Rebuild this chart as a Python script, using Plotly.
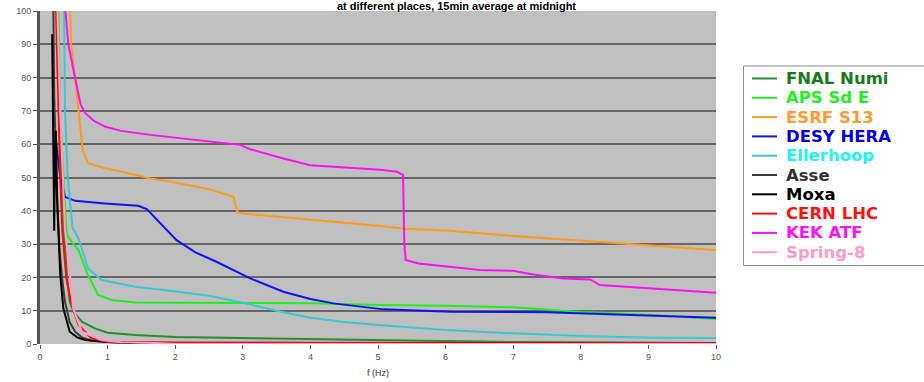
import plotly.graph_objects as go

# ---------------- data ----------------
names = ["FNAL Numi", "APS Sd E", "ESRF S13", "DESY HERA", "Ellerhoop",
         "Asse", "Moxa", "CERN LHC", "KEK ATF", "Spring-8"]
line_colors = ["#2a8c2a", "#1ef01e", "#ff9a1a", "#1212f0", "#3cc8cc",
               "#3c3c3c", "#000000", "#ff0a0a", "#ff10f0", "#ff9ccc"]
text_colors = ["#1a7a1a", "#22ee22", "#ff9a33", "#0000ee", "#22f4f4",
               "#333333", "#000000", "#ff1010", "#ff10f0", "#ff9ccc"]

fnal_x = [0.26, 0.30, 0.35, 0.40, 0.44, 0.50, 0.62, 0.81, 1.0, 1.41, 2.0, 3.0, 4.0, 5.0, 6.0, 7.0, 8.0, 9.0, 10.0]
fnal_y = [105, 60, 35, 20, 12.7, 9.5, 6.7, 4.7, 3.4, 2.7, 2.1, 1.8, 1.4, 1.0, 0.7, 0.6, 0.5, 0.4, 0.3]

aps_x = [0.27, 0.296, 0.39, 0.42, 0.47, 0.57, 0.71, 0.86, 1.06, 1.41, 2.0, 3.0, 4.0, 5.0, 6.0, 7.0, 8.0, 9.0, 10.0]
aps_y = [105, 70, 34, 32, 30.7, 28.2, 20.7, 14.7, 13.2, 12.5, 12.4, 12.3, 12.2, 11.7, 11.5, 11.0, 9.6, 8.8, 7.5]

esrf_x = [0.44, 0.46, 0.52, 0.57, 0.63, 0.71, 0.96, 1.2, 1.63, 2.0, 2.5, 2.86, 2.92, 3.0, 3.5, 4.09, 4.5, 5.03, 5.37, 6.07, 7.0, 7.5, 8.48, 9.0, 10.0]
esrf_y = [105, 90, 80, 70, 58.3, 54.3, 52.8, 51.8, 49.7, 48.5, 46.5, 44.2, 39.6, 39.2, 38.3, 37.2, 36.5, 35.4, 34.7, 34.0, 32.4, 31.7, 30.2, 29.5, 28.2]

desy_x = [0.22, 0.25, 0.30, 0.37, 0.52, 0.96, 1.3, 1.45, 1.58, 1.75, 1.92, 2.02, 2.3, 2.61, 3.11, 3.6, 4.0, 4.34, 5.08, 6.07, 7.5, 8.5, 9.0, 10.0]
desy_y = [64, 58, 50, 44.2, 43, 42.2, 41.8, 41.5, 40.5, 37, 33.2, 31.2, 27.5, 24.7, 19.7, 15.7, 13.5, 12.2, 10.4, 9.7, 9.5, 8.8, 8.5, 7.9]

eller_x = [0.355, 0.37, 0.41, 0.48, 0.57, 0.71, 0.91, 1.41, 1.92, 2.5, 3.0, 3.5, 4.0, 4.5, 5.0, 6.0, 7.0, 8.0, 9.0, 10.0]
eller_y = [105, 70, 50, 35, 31.7, 22.7, 19.2, 17.2, 16, 14.5, 12.4, 10, 7.9, 6.6, 5.7, 4.2, 3.2, 2.4, 1.9, 1.8]

asse_x = [0.195, 0.20, 0.21, 0.23, 0.26, 0.29, 0.33, 0.37, 0.44, 0.52, 0.62, 0.76, 1.0, 2.0, 4.0, 6.0, 8.0, 10.0]
asse_y = [105, 90, 75, 60, 40, 28, 19, 12.7, 6.5, 3.7, 2.0, 1.0, 0.6, 0.4, 0.3, 0.3, 0.3, 0.3]

moxa_x = [0.18, 0.19, 0.20, 0.21, 0.22, 0.235, 0.25, 0.27, 0.30, 0.345, 0.44, 0.55, 0.67, 1.0, 1.3, 2.0, 4.0, 6.0, 8.0]
moxa_y = [93, 70, 45, 34, 55, 64, 45, 35.7, 20.7, 10.7, 3.7, 2.0, 1.2, 0.6, 0.3, 0.3, 0.2, 0.2, 0.2]

cern_x = [0.23, 0.26, 0.27, 0.30, 0.33, 0.345, 0.39, 0.47, 0.57, 0.76, 1.0, 1.5, 2.0, 4.0, 6.0, 8.0, 10.0]
cern_y = [105, 80, 70, 50, 34, 29.7, 19.7, 11.7, 5.7, 1.7, 0.7, 0.5, 0.4, 0.3, 0.3, 0.2, 0.2]

kek_x = [0.355, 0.42, 0.52, 0.60, 0.67, 0.80, 0.96, 1.2, 1.63, 2.0, 2.5, 2.96, 3.11, 3.6, 4.0, 4.5, 5.03, 5.28, 5.37, 5.39, 5.41, 5.6, 6.07, 6.51, 7.0, 7.25, 7.74, 8.14, 8.28, 9.0, 10.0]
kek_y = [105, 89.8, 79.8, 72, 69.3, 67, 65.3, 64, 62.8, 62, 61, 59.8, 58.5, 55.7, 53.7, 53, 52.3, 51.7, 50.8, 30, 25.2, 24.2, 23.2, 22.2, 22, 21, 19.7, 19.4, 17.7, 16.8, 15.4]

spring_x = [0.25, 0.30, 0.37, 0.42, 0.49, 0.62, 0.91, 1.2, 1.7, 2.0, 4.0, 6.0, 8.0, 10.0]
spring_y = [105, 70, 34, 25.7, 10.7, 3.7, 1.2, 0.5, 0.3, 0.0, 0.0, 0.0, 0.0, 0.0]

series_x = [fnal_x, aps_x, esrf_x, desy_x, eller_x, asse_x, moxa_x, cern_x, kek_x, spring_x]
series_y = [fnal_y, aps_y, esrf_y, desy_y, eller_y, asse_y, moxa_y, cern_y, kek_y, spring_y]

x_ticks = list(range(0, 11))
y_ticks = list(range(0, 101, 10))
title_text = "at different places, 15min average at midnight"
x_title = "f (Hz)"

# ---------------- layout geometry ----------------
W, H = 924, 382
L, R, T, B = 40, 208, 11, 38
PW, PH = W - L - R, H - T - B


def px_x(px):
    return (px - L) / PW


def px_y(py):
    return (H - B - py) / PH


fig = go.Figure()
for nm, xs, ys, col in zip(names, series_x, series_y, line_colors):
    fig.add_trace(go.Scatter(x=xs, y=ys, mode="lines", name=nm,
                             line=dict(color=col, width=2), showlegend=False))

shapes = []
annotations = []

# legend box (manual, to match the reference spacing)
shapes.append(dict(type="rect", xref="paper", yref="paper",
                   x0=px_x(743.5), x1=px_x(940), y0=px_y(265.5), y1=px_y(66),
                   line=dict(color="#8a8a8a", width=1), fillcolor="white", layer="below"))
row0, step = 78.5, 19.3
for i, (nm, lc, tc) in enumerate(zip(names, line_colors, text_colors)):
    yy = px_y(row0 + i * step)
    shapes.append(dict(type="line", xref="paper", yref="paper",
                       x0=px_x(752), x1=px_x(777), y0=yy, y1=yy,
                       line=dict(color=lc, width=2)))
    annotations.append(dict(text=f"<b>{nm}</b>", xref="paper", yref="paper",
                            x=px_x(785), y=yy, xanchor="left", yanchor="middle",
                            showarrow=False, borderpad=0,
                            font=dict(family="DejaVu Sans", size=16.5, color=tc)))

annotations.append(dict(text=f"<b>{title_text}</b>", xref="paper", yref="paper",
                        x=px_x(456), y=px_y(-1), xanchor="center", yanchor="top",
                        showarrow=False, borderpad=0,
                        font=dict(family="Liberation Sans", size=11, color="black")))

fig.update_layout(
    width=W, height=H,
    margin=dict(l=L, r=R, t=T, b=B, pad=0, autoexpand=False),
    paper_bgcolor="white", plot_bgcolor="#c0c0c0",
    showlegend=False,
    shapes=shapes, annotations=annotations,
    xaxis=dict(range=[0, 10], tickvals=x_ticks, ticks="outside", ticklen=4,
               tickcolor="#555", showgrid=False, zeroline=False,
               showline=False, tickfont=dict(family="Liberation Sans", size=9, color="#555"),
               title=dict(text=x_title, standoff=8,
                          font=dict(family="Liberation Sans", size=9, color="#333"))),
    yaxis=dict(range=[0, 100], tickvals=y_ticks, ticks="outside", ticklen=4,
               tickcolor="#555", showgrid=True, gridcolor="#666666", gridwidth=1.5,
               zeroline=False, showline=True, linecolor="#555", linewidth=3,
               tickfont=dict(family="Liberation Sans", size=9, color="#555")),
)

fig.write_html("out.html")
